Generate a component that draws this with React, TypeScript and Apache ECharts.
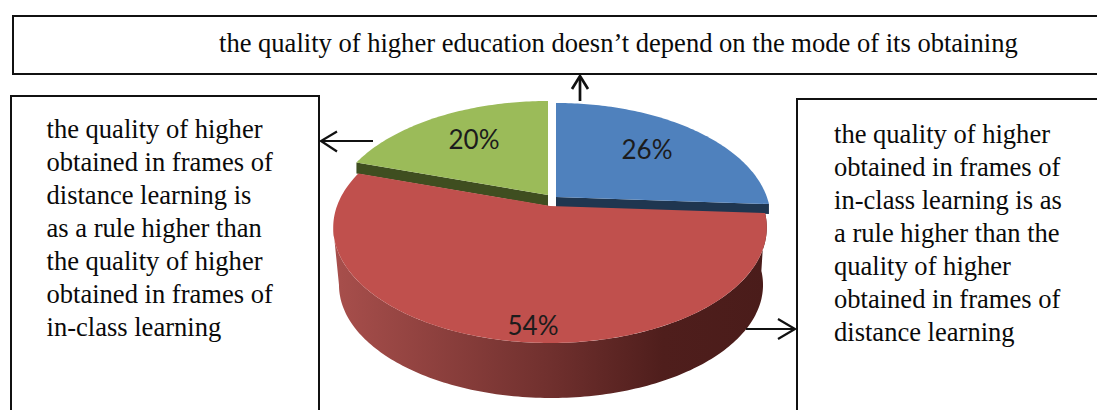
import React, { useEffect, useRef } from "react";
import * as echarts from "echarts";

const categories = [
  "in-class higher",
  "no dependence on mode",
  "distance higher",
];
const shares = [26, 54, 20];
const shareLabels = ["26%", "54%", "20%"];

const topText = "the quality of higher education doesn\u2019t depend on the mode of its obtaining";
const leftLines = [
  "the quality of higher",
  "obtained in frames of",
  "distance learning is",
  "as a rule higher than",
  "the quality of higher",
  "obtained in frames of",
  "in-class learning",
];
const rightLines = [
  "the quality of higher",
  "obtained in frames of",
  "in-class learning is as",
  "a rule higher than the",
  "quality of higher",
  "obtained in frames of",
  "distance learning",
];

// perspective projection of the pie disc
const K = 0.186;
const APEX_X = 550;
const TOP_Y0 = 206;
const BOTTOM_X0 = 551;
const BOTTOM_Y0 = 264;
const A = 213;
const B = 111.5;
const BOTTOM_SCALE = 0.978;
const TANGENT_LEFT = 360 - (Math.acos(-K) * 180) / Math.PI;

const styles = [
  { top: "#4f81bd", side: "#1f3650", dx: 6, dy: -9, sx: 0.99, thick: 10, lx: 647, ly: 149 },
  { top: "#c0504d", side: "", dx: 0, dy: 0, sx: 1, thick: 0, lx: 533, ly: 325 },
  { top: "#9bbb59", side: "#3f4e20", dx: -2, dy: -11, sx: 1, thick: 11, lx: 474, ly: 139 },
];

function project(deg: number, x0 = APEX_X, y0 = TOP_Y0, scale = 1): number[] {
  const t = (deg * Math.PI) / 180;
  const u = Math.sin(t);
  const v = Math.cos(t);
  const w = 1 + K * v;
  return [x0 + (A * scale * u) / w, y0 - (B * scale * v) / w];
}

function arc(from: number, to: number, x0 = APEX_X, y0 = TOP_Y0, scale = 1): number[][] {
  const pts: number[][] = [];
  const n = Math.max(2, Math.ceil(Math.abs(to - from)));
  for (let i = 0; i <= n; i++) {
    pts.push(project(from + ((to - from) * i) / n, x0, y0, scale));
  }
  return pts;
}

function App() {
  const ref = useRef<HTMLDivElement>(null);
  useEffect(() => {
    const chart = echarts.init(ref.current!, null, { renderer: "svg" });
    const total = shares.reduce((a, b) => a + b, 0);

    const renderItem = (params: any, api: any) => {
      const i = params.dataIndex;
      const st = styles[i];
      let before = 0;
      for (let j = 0; j < i; j++) before += shares[j];
      const a0 = (before / total) * 360;
      const a1 = ((before + api.value(0)) / total) * 360;
      const move = (p: number[]) => [
        APEX_X + (p[0] - APEX_X) * st.sx + st.dx,
        p[1] + st.dy,
      ];
      const children: any[] = [];
      const rim = arc(a0, a1).map(move);
      const apex = move([APEX_X, TOP_Y0]);
      if (st.side) {
        const cutAngle = i === 0 ? a1 : a0;
        const tip = move(project(cutAngle));
        children.push({
          type: "polygon",
          z2: 1,
          shape: {
            points: [apex, tip, [tip[0], tip[1] + st.thick], [apex[0], apex[1] + st.thick]],
          },
          style: { fill: st.side },
        });
      } else {
        const wallEnd = Math.min(a1, TANGENT_LEFT);
        const topEdge = arc(a0, wallEnd);
        const bottomEdge = arc(a0, wallEnd, BOTTOM_X0, BOTTOM_Y0, BOTTOM_SCALE).reverse();
        children.push({
          type: "polygon",
          z2: 2,
          shape: { points: topEdge.concat(bottomEdge) },
          style: {
            fill: new echarts.graphic.LinearGradient(0, 0, 1, 0, [
              { offset: 0, color: "#a84f4c" },
              { offset: 0.5, color: "#70302e" },
              { offset: 0.76, color: "#4f1e1c" },
              { offset: 1, color: "#4a1c1a" },
            ]),
          },
        });
      }
      children.push({
        type: "polygon",
        z2: st.side ? 3 : 4,
        shape: { points: [apex].concat(rim) },
        style: { fill: st.top },
      });
      children.push({
        type: "text",
        z2: 6,
        x: st.lx,
        y: st.ly,
        style: {
          text: shareLabels[i],
          fill: "#1c1c1c",
          font: '26px Lato, "Open Sans", sans-serif',
          textAlign: "center",
          textVerticalAlign: "middle",
        },
      });
      return { type: "group", children };
    };

    const serif = '26.55px "Liberation Serif", serif';
    const textEl = (text: string, x: number, y: number) => ({
      type: "text",
      x,
      y,
      z: 5,
      style: { text, fill: "#0a0a0a", font: serif, textAlign: "left", textVerticalAlign: "middle" },
    });
    const frame = (x: number, y: number, width: number, height: number) => ({
      type: "rect",
      z: 1,
      shape: { x, y, width, height },
      style: { fill: "none", stroke: "#111111", lineWidth: 2 },
    });
    const arrow = (pts: number[][], head: number[][], lineWidth = 2.2) => [
      { type: "polyline", z: 6, shape: { points: pts }, style: { fill: "none", stroke: "#111111", lineWidth } },
      { type: "polyline", z: 6, shape: { points: head }, style: { fill: "none", stroke: "#111111", lineWidth } },
    ];

    chart.setOption({
      animation: false,
      backgroundColor: "#ffffff",
      tooltip: { show: false },
      graphic: {
        elements: [
          frame(13, 16, 1200, 58),
          frame(11, 96, 308, 420),
          frame(797, 99, 400, 420),
          textEl(topText, 219, 43.3),
          ...leftLines.map((s, i) => textEl(s, 46.5, 129.3 + i * 33)),
          ...rightLines.map((s, i) => textEl(s, 834, 133.8 + i * 33)),
          ...arrow([[373, 141], [322, 141]], [[337, 131.5], [321, 141], [337, 151.5]]),
          ...arrow([[746, 329], [794, 329]], [[778, 319], [795, 329], [778, 339]]),
          ...arrow([[580, 101], [580, 77]], [[572, 89], [580, 76], [588, 89]], 2.7),
        ],
      },
      series: [
        {
          type: "custom",
          coordinateSystem: "none",
          renderItem,
          silent: true,
          data: categories.map((name, i) => ({ name, value: [shares[i]] })),
        },
      ],
    });
    return () => chart.dispose();
  }, []);
  return (
    <div
      ref={ref}
      style={{ position: "absolute", left: 0, top: 0, width: 1097, height: 410, overflow: "hidden" }}
    />
  );
}

export default App;
